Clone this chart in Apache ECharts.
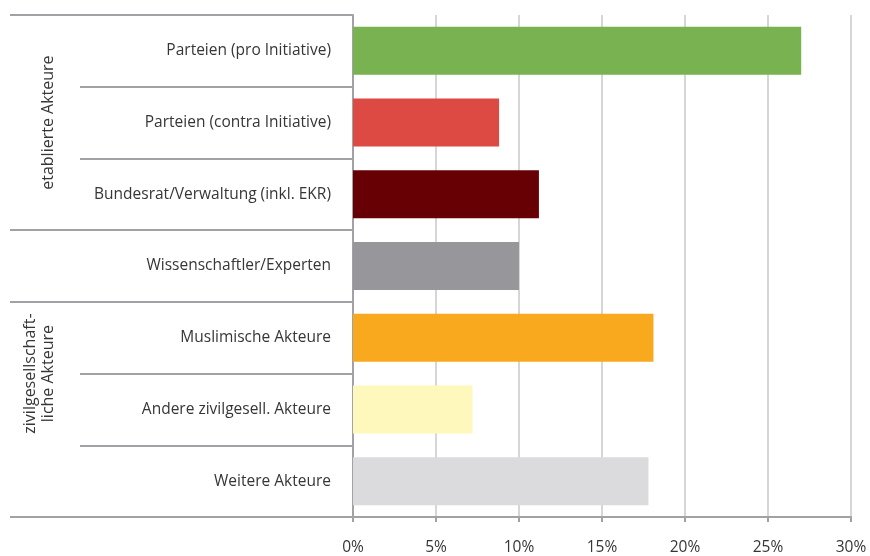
<!DOCTYPE html>
<html>
<head>
<meta charset="utf-8">
<script src="https://cdn.jsdelivr.net/npm/echarts@6/dist/echarts.min.js"></script>
<style>
  html, body { margin: 0; padding: 0; background: #fff; }
  #chart { width: 870px; height: 556px; }
</style>
</head>
<body>
<div id="chart"></div>
<script>
// Daten
const categories = [
  'Parteien (pro Initiative)',
  'Parteien (contra Initiative)',
  'Bundesrat/Verwaltung (inkl. EKR)',
  'Wissenschaftler/Experten',
  'Muslimische Akteure',
  'Andere zivilgesell. Akteure',
  'Weitere Akteure'
];
const values = [27.0, 8.8, 11.2, 10.0, 18.1, 7.2, 17.8];
const barColors = ['#79b251', '#dc4a43', '#660005', '#97979b', '#f9a91d', '#fef8bc', '#dbdbdd'];
const xTickLabels = ['0%', '5%', '10%', '15%', '20%', '25%', '30%'];

// Gruppen (erste / letzte Zeile)
const groupNames = ['etablierte Akteure', 'zivilgesellschaft-\nliche Akteure'];
const groupFirst = [0, 4];
const groupLast = [2, 5];
const groupBreaks = [0, 3, 4]; // Zeilen, über denen eine durchgehende Linie liegt

const FONT = '"Open Sans", "Noto Sans", sans-serif';
const lineGray = '#a2a2a6';
const textColor = '#363636';

var myChart = echarts.init(document.getElementById('chart'));
var option = {
  animation: false,
  grid: {
    left: 353,
    right: 19,
    top: 15,
    bottom: 39,
    containLabel: false,
    outerBoundsMode: 'none'
  },
  xAxis: {
    type: 'value',
    min: 0,
    max: 30,
    interval: 5,
    axisLabel: {
      formatter: function (v) { return xTickLabels[v / 5]; },
      color: textColor,
      fontSize: 15.5,
      fontFamily: FONT,
      margin: 23
    },
    axisLine: { show: true, lineStyle: { color: lineGray, width: 2 } },
    axisTick: { show: true, length: 5, lineStyle: { color: lineGray, width: 2 } },
    splitLine: { show: true, lineStyle: { color: '#d6d6d6', width: 2 } }
  },
  yAxis: [
    {
      type: 'category',
      data: categories,
      inverse: true,
      axisLine: { show: true, lineStyle: { color: lineGray, width: 2 } },
      // innere Trennlinien der Tabelle
      axisTick: { show: true, length: 273, lineStyle: { color: lineGray, width: 2 } },
      axisLabel: {
        color: textColor,
        fontSize: 15.5,
        fontFamily: FONT,
        margin: 22
      },
      splitLine: { show: false }
    },
    {
      type: 'category',
      data: categories,
      inverse: true,
      position: 'left',
      axisLine: { show: false },
      axisLabel: { show: false },
      // durchgehende Gruppenlinien
      axisTick: {
        show: true,
        length: 343,
        interval: function (index) { return groupBreaks.indexOf(index) >= 0; },
        lineStyle: { color: lineGray, width: 2 }
      },
      splitLine: { show: false }
    }
  ],
  series: [
    {
      type: 'bar',
      data: values.map(function (v, i) {
        return { value: v, itemStyle: { color: barColors[i] } };
      }),
      barWidth: 48
    }
  ]
};
myChart.setOption(option);

// Gruppenbeschriftungen senkrecht
var texts = groupNames.map(function (name, g) {
  var y1 = myChart.convertToPixel({ yAxisIndex: 0 }, categories[groupFirst[g]]);
  var y2 = myChart.convertToPixel({ yAxisIndex: 0 }, categories[groupLast[g]]);
  return {
    type: 'text',
    x: g === 0 ? 48 : 39,
    y: (y1 + y2) / 2,
    rotation: Math.PI / 2,
    style: {
      text: name,
      fill: textColor,
      font: '16px ' + FONT,
      align: 'center',
      verticalAlign: 'middle',
      lineHeight: 18
    }
  };
});
myChart.setOption({ graphic: texts });
</script>
</body>
</html>
